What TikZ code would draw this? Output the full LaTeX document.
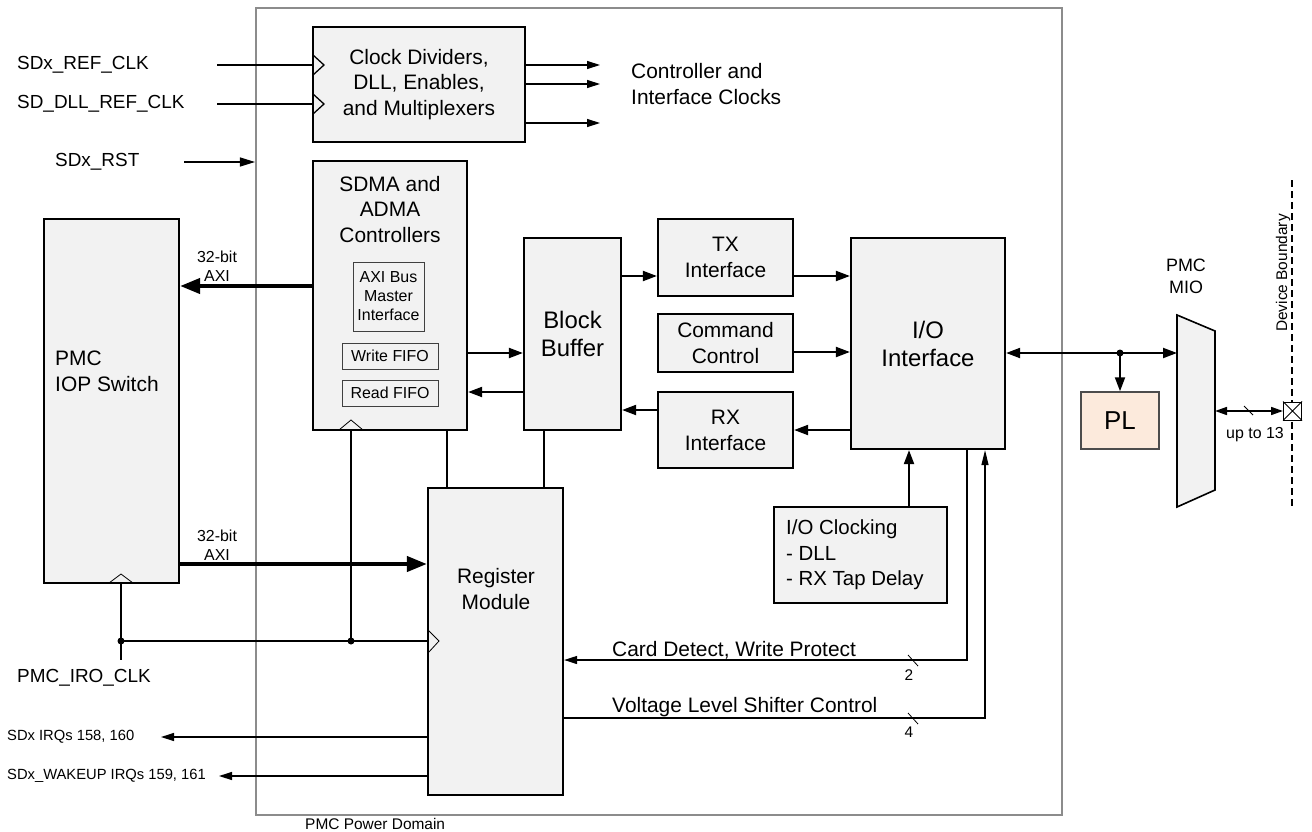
\documentclass[tikz,border=0pt]{standalone}
\usepackage{fontspec}
\setmainfont{Liberation Sans}
\usetikzlibrary{arrows.meta}
\definecolor{boxgray}{HTML}{F2F2F2}
\definecolor{plfill}{HTML}{FCEADC}
\definecolor{domgray}{HTML}{8C8C8C}
\newcommand\fs[2]{\fontsize{#1}{#2}\selectfont}
\begin{document}
\begin{tikzpicture}[x=1bp,y=-1bp,
  box/.style={draw=black, fill=boxgray, line width=2.2bp, inner sep=0pt, align=center, font=\fs{21}{26}},
  ibox/.style={draw=black!75, fill=boxgray, line width=1bp, inner sep=0pt, align=center, font=\fs{16}{19}},
  con/.style={line width=2bp},
  arr/.style={con, -{Triangle[length=14bp,width=10bp]}},
  tarr/.style={line width=4bp, -{Triangle[length=20bp,width=15bp]}},
  thin/.style={line width=1.3bp},
  sarr/.style={thin, -{Triangle[length=13bp,width=8bp]}},
  lbl/.style={inner sep=0pt, font=\fs{21}{26}},
  xlbl/.style={inner sep=0pt, font=\fs{19}{24}},
  slbl/.style={inner sep=0pt, font=\fs{15.5}{19}},
  dot/.style={circle, fill=black, inner sep=0pt, minimum size=7bp}]
\useasboundingbox (0,0) rectangle (1312,831);

% power domain
\node[draw=domgray, line width=2bp, minimum width=806bp, minimum height=807bp, inner sep=0pt] (dom) at (659,411.5) {};
\node[slbl, anchor=west] (domlbl) at (305,824) {PMC Power Domain};

% boxes
\node[box, minimum width=212bp, minimum height=115bp] (clk) at (419,84.5) {Clock Dividers,\\DLL, Enables,\\and Multiplexers};
\node[box, minimum width=154bp, minimum height=269bp] (sdma) at (390,295.5) {};
\node[lbl, align=center] (sdmat) at (390,209.5) {SDMA and\\ADMA\\Controllers};
\node[ibox, minimum width=71bp, minimum height=69bp] (axib) at (388.5,296.5) {AXI Bus\\Master\\Interface};
\node[ibox, minimum width=96bp, minimum height=26bp] (wf) at (390,356) {Write FIFO};
\node[ibox, minimum width=96bp, minimum height=26bp] (rf) at (390,393) {Read FIFO};
\node[box, minimum width=135bp, minimum height=364bp] (iop) at (111.5,401) {};
\node[lbl, anchor=west, align=left] (iopt) at (55,371.5) {PMC\\IOP Switch};
\node[box, minimum width=97bp, minimum height=192bp, font=\fs{24}{28}] (bb) at (572.5,334) {Block\\Buffer};
\node[box, minimum width=135bp, minimum height=77bp] (tx) at (725.5,257.5) {TX\\Interface};
\node[box, minimum width=135bp, minimum height=58bp] (cmd) at (725.5,343) {Command\\Control};
\node[box, minimum width=135bp, minimum height=76bp] (rx) at (725.5,430) {RX\\Interface};
\node[box, minimum width=154bp, minimum height=211bp, font=\fs{24}{28}] (io) at (928,343.5) {I/O\\Interface};
\node[box, minimum width=173bp, minimum height=96bp] (ioclk) at (860.5,555) {};
\node[lbl, anchor=west, align=left, font=\fs{20.5}{25.5}] (ioclkt) at (786,555) {I/O Clocking\\- DLL\\- RX Tap Delay};
\node[box, minimum width=135bp, minimum height=307bp] (reg) at (495.5,641.5) {};
\node[lbl, align=center] (regt) at (496,589) {Register\\Module};
\node[draw=black!70, fill=plfill, line width=1.5bp, minimum width=78bp, minimum height=57bp, inner sep=0pt, font=\fs{26}{30}] (pl) at (1120,420.5) {PL};

% MIO
\draw[fill=boxgray, line width=1.6bp] (1177,315) -- (1215,331) -- (1215,490) -- (1177,507) -- cycle;
\coordinate (mioW) at (1177,353);
\coordinate (mioE) at (1215,411);
\node[inner sep=0pt, align=center, font=\fs{18}{22}] (miot) at (1186,276) {PMC\\MIO};

% device boundary
\draw[thin, dash pattern=on 7bp off 4bp] (1292,180) -- (1292,507);
\node[inner sep=0pt, rotate=90, font=\fs{15.5}{19}] (devb) at (1283,273) {Device Boundary};
\node[draw=black, fill=white, line width=1bp, minimum size=18bp, inner sep=0pt] (pad) at (1292.5,411) {};
\draw[line width=0.8bp] (pad.north west) -- (pad.south east) (pad.north east) -- (pad.south west);

% external labels
\node[xlbl, anchor=west] (lref) at (17,65) {SDx\_REF\_CLK};
\node[xlbl, anchor=west] (ldll) at (17,104) {SD\_DLL\_REF\_CLK};
\node[xlbl, anchor=west] (lrst) at (55,162) {SDx\_RST};
\node[xlbl, anchor=west] (liro) at (17,678) {PMC\_IRO\_CLK};
\node[lbl, anchor=west, align=left] (lclk) at (631,84) {Controller and\\Interface Clocks};
\node[inner sep=0pt, anchor=west, font=\fs{14.8}{17}] (lirq) at (7,737) {SDx IRQs 158, 160};
\node[inner sep=0pt, anchor=west, font=\fs{14.8}{17}] (lwk) at (7,776) {SDx\_WAKEUP IRQs 159, 161};
\node[inner sep=0pt, align=center, font=\fs{16}{19}] (axi1) at (217,266.5) {32-bit\\AXI};
\node[inner sep=0pt, align=center, font=\fs{16}{19}] (axi2) at (217,545) {32-bit\\AXI};
\node[lbl, anchor=west] (lcd) at (612,650) {Card Detect, Write Protect};
\node[lbl, anchor=west] (lvl) at (612,707) {Voltage Level Shifter Control};
\node[slbl] (n2) at (909,675) {2};
\node[slbl] (n4) at (909,732) {4};
\node[inner sep=0pt, font=\fs{16}{19}] (up13) at (1255,435) {up to 13};

% free-end coordinates
\coordinate (inref) at (217,65);
\coordinate (indll) at (217,104);
\coordinate (co1) at (600,65);
\coordinate (co2) at (600,84);
\coordinate (co3) at (600,123);
\coordinate (rsts) at (184,162);
\coordinate (iroend) at (121,660);
\coordinate (j1) at (121,641);
\coordinate (j2) at (351,641);
\coordinate (jn) at (1120,353);
\coordinate (irqend) at (161,737);
\coordinate (wkend) at (219,776);

% clock inputs / outputs
\draw[thin] (inref) -- (clk.west |- inref);
\draw[thin] (indll) -- (clk.west |- indll);
\draw[thin] (313,55) -- (324,65) -- (313,75);
\draw[thin] (313,94) -- (324,104) -- (313,114);
\draw[sarr] (clk.east |- co1) -- (co1);
\draw[sarr] (clk.east |- co2) -- (co2);
\draw[sarr] (clk.east |- co3) -- (co3);
\draw[thin, -{Triangle[length=15bp,width=9bp]}] (rsts) -- (dom.west |- rsts);

% data path
\draw[tarr] (sdma.west |- 0,286) -- (iop.east |- 0,286);
\draw[tarr] (iop.east |- 0,564) -- (reg.west |- 0,564);
\draw[arr] (sdma.east |- 0,353) -- (bb.west |- 0,353);
\draw[arr] (bb.west |- 0,392) -- (sdma.east |- 0,392);
\draw[arr] (bb.east |- 0,276) -- (tx.west |- 0,276);
\draw[arr] (rx.west |- 0,410) -- (bb.east |- 0,410);
\draw[arr] (tx.east |- 0,276) -- (io.west |- 0,276);
\draw[arr] (cmd.east |- 0,352) -- (io.west |- 0,352);
\draw[arr] (io.west |- rx.east) -- (rx.east);
\draw[con] (sdma.south -| 447,0) -- (reg.north -| 447,0);
\draw[con] (bb.south -| 544,0) -- (reg.north -| 544,0);
\draw[arr] (ioclk.north -| 909,0) -- (io.south -| 909,0);

% IO to MIO / PL
\draw[con, {Triangle[length=14bp,width=10bp]}-{Triangle[length=14bp,width=10bp]}] (io.east |- jn) -- (mioW);
\draw[arr] (jn) -- (pl.north);
\node[dot] (jnd) at (jn) {};
\draw[line width=1.6bp, {Triangle[length=12bp,width=8bp]}-{Triangle[length=12bp,width=8bp]}] (mioE) -- (pad.west);
\draw[line width=0.8bp] (1244,406) -- (1253,415);

% card detect / voltage
\draw[sarr] (io.south -| 967,0) -- (967,660) -- (reg.east |- 0,660);
\draw[sarr, -{Triangle[length=15bp,width=7bp]}] (reg.east |- 0,718) -- (985,718) -- (io.south -| 985,0);
\draw[line width=0.8bp] (908,655) -- (918,666);
\draw[line width=0.8bp] (908,713) -- (918,724);

% clocks
\draw[thin] (iop.south -| 121,0) -- (iroend);
\draw[thin] (j1) -- (reg.west |- j1);
\draw[thin] (j2) -- (sdma.south -| j2);
\node[dot] (j1d) at (j1) {};
\node[dot] (j2d) at (j2) {};
\draw[line width=0.8bp] (339,430) -- (351,420) -- (363,430);
\draw[line width=0.8bp] (109,583) -- (121,574) -- (133,583);
\draw[line width=0.8bp] (428,630) -- (439,641) -- (428,653);

% IRQs
\draw[sarr] (reg.west |- irqend) -- (irqend);
\draw[sarr] (reg.west |- wkend) -- (wkend);
\end{tikzpicture}
\end{document}
